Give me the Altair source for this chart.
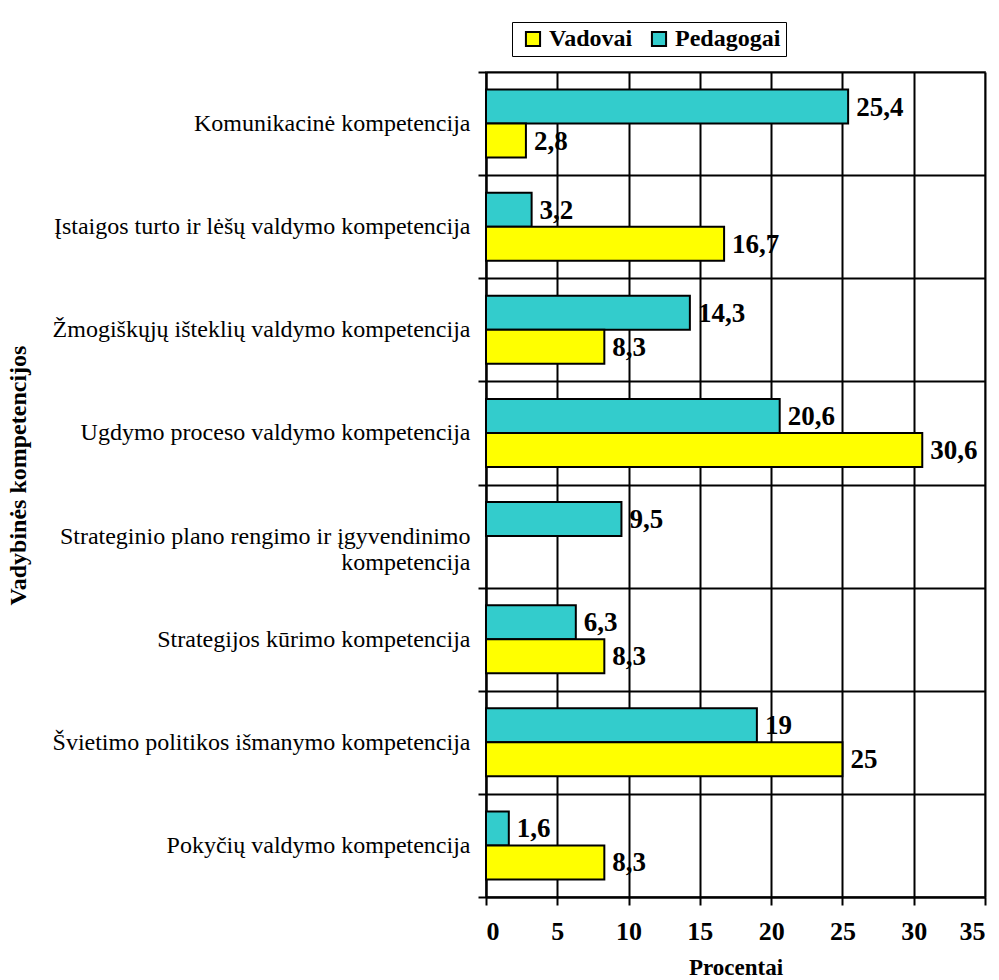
import altair as alt
import pandas as pd

categories = [
    "Komunikacinė kompetencija",
    "Įstaigos turto ir lėšų valdymo kompetencija",
    "Žmogiškųjų išteklių valdymo kompetencija",
    "Ugdymo proceso valdymo kompetencija",
    "Strateginio plano rengimo ir įgyvendinimo|kompetencija",
    "Strategijos kūrimo kompetencija",
    "Švietimo politikos išmanymo kompetencija",
    "Pokyčių valdymo kompetencija",
]
pedagogai = [25.4, 3.2, 14.3, 20.6, 9.5, 6.3, 19, 1.6]
vadovai = [2.8, 16.7, 8.3, 30.6, None, 8.3, 25, 8.3]
series = ["Vadovai", "Pedagogai"]
colors = ["#FFFF00", "#33CCCC"]
x_ticks = [0, 5, 10, 15, 20, 25, 30, 35]

rows = []
for c, p, v in zip(categories, pedagogai, vadovai):
    rows.append({"cat": c, "grp": "Pedagogai", "value": p})
    if v is not None:
        rows.append({"cat": c, "grp": "Vadovai", "value": v})
df = pd.DataFrame(rows)

FONT = "Liberation Serif"

y_enc = alt.Y(
    "cat:N",
    sort=categories,
    scale=alt.Scale(paddingInner=0, paddingOuter=0),
    axis=alt.Axis(
        title="Vadybinės kompetencijos",
        titleFont=FONT,
        titleFontSize=24,
        titleFontWeight="bold",
        titleX=-468,
        titleY=403,
        titleAngle=-90,
        titleAlign="center",
        titleBaseline="middle",
        labelFont=FONT,
        labelFontSize=24,
        labelFontWeight="normal",
        labelColor="black",
        labelExpr="split(datum.label, '|')",
        labelPadding=8,
        labelLimit=460,
        tickBand="extent",
        tickSize=8,
        tickColor="black",
        tickWidth=2,
        domainColor="black",
        domainWidth=2,
        grid=True,
        gridColor="black",
        gridWidth=2,
        gridOpacity=1,
    ),
)
yoff = alt.YOffset(
    "grp:N",
    sort=["Pedagogai", "Vadovai"],
    scale=alt.Scale(paddingInner=0, paddingOuter=0.515),
)
x_enc = alt.X(
    "value:Q",
    scale=alt.Scale(domain=[0, 35], nice=False),
    axis=alt.Axis(
        values=x_ticks,
        title="Procentai",
        titleFont=FONT,
        titleFontSize=23,
        titleFontWeight="bold",
        titlePadding=12,
        labelFont=FONT,
        labelFontSize=26,
        labelFontWeight="bold",
        labelColor="black",
        labelPadding=13,
        tickSize=8,
        tickColor="black",
        tickWidth=2,
        domainColor="black",
        domainWidth=2,
        grid=True,
        gridColor="black",
        gridWidth=2,
        gridOpacity=1,
    ),
)

bars = alt.Chart(df).mark_bar(stroke="black", strokeWidth=2).encode(
    y=y_enc,
    yOffset=yoff,
    x=x_enc,
    color=alt.Color(
        "grp:N",
        scale=alt.Scale(domain=series, range=colors),
        legend=alt.Legend(
            title=None,
            orient="none",
            legendX=26,
            legendY=-50,
            direction="horizontal",
            strokeColor="black",
            padding=5,
            symbolType="square",
            symbolSize=200,
            symbolStrokeColor="black",
            symbolStrokeWidth=2,
            labelFont=FONT,
            labelFontSize=24,
            labelFontWeight="bold",
            labelColor="black",
            columnPadding=10,
            symbolOffset=4,
        ),
    ),
)

labels = alt.Chart(df).transform_calculate(
    lbl="replace(toString(datum.value), '.', ',')"
).mark_text(
    align="left", baseline="middle", dx=8, dy=1, font=FONT, fontSize=27, fontWeight="bold", color="black"
).encode(
    y=alt.Y("cat:N", sort=categories),
    yOffset=alt.YOffset("grp:N", sort=["Pedagogai", "Vadovai"]),
    x="value:Q",
    text="lbl:N",
)

chart = alt.layer(bars, labels).properties(
    width=499,
    height=825,
    autosize=alt.AutoSizeParams(type="none"),
    padding={"left": 486, "top": 72, "right": 14, "bottom": 83},
    background="white",
).configure_view(stroke="#808080", strokeWidth=2)

chart.save("out.html", embed_options={"renderer": "svg", "actions": False})
